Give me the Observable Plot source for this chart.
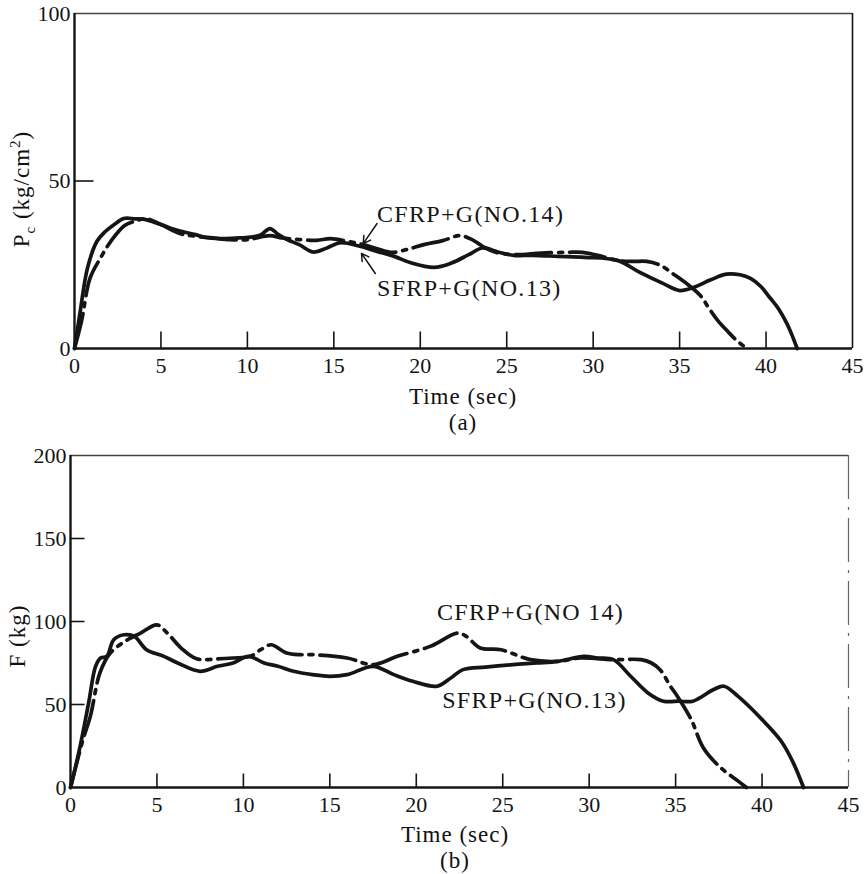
<!DOCTYPE html>
<html><head><meta charset="utf-8">
<script src="https://cdn.jsdelivr.net/npm/d3@7"></script>
<script src="https://cdn.jsdelivr.net/npm/@observablehq/plot@0.6"></script>
<style>
body{margin:0;background:#fff;}
#fig{position:relative;width:866px;height:874px;font-family:"Liberation Serif",serif;color:#111;overflow:hidden;}
#fig svg{position:absolute;left:0;}
.lbl{position:absolute;white-space:nowrap;font-size:23px;letter-spacing:1px;transform:translate(-50%,-50%);line-height:1;}
.ylbl{transform:translate(-50%,-50%) rotate(-90deg);}
sub,sup{font-size:65%;}
</style></head>
<body><div id="fig"></div>
<script>
// ---- axis ticks ----
const xTicks = [0, 5, 10, 15, 20, 25, 30, 35, 40, 45];
const xInnerTicks = [5, 10, 15, 20, 25, 30, 35, 40];
const yTicksA = [0, 50, 100];
const yTicksB = [0, 50, 100, 150, 200];

// ---- panel (a): Pc (kg/cm2) vs time ----
// SFRP+G (NO.13): solid
const tA_S = [0, 0.3, 0.75, 1.3, 1.8, 2.3, 2.85, 3.5, 4.0, 5.0, 6.0, 7.0, 7.5, 8.5, 9.5, 10.3, 10.8, 11.3, 11.8, 12.3, 13.0, 13.8, 14.6, 15.4, 16.5, 17.5, 18.5, 19.5, 20.8, 21.8, 22.8, 23.6, 24.5, 25.4, 26.5, 28, 29.5, 31.4, 32.7, 34, 35, 35.8, 36.8, 37.7, 38.5, 39.1, 39.7, 40.2, 40.7, 41.2, 41.5, 41.8];
const vA_S = [0, 10, 24, 32, 35, 37, 38.8, 38.7, 38.6, 37, 35.2, 34, 33.2, 32.8, 33, 33.3, 34, 35.8, 34, 32.5, 31, 28.8, 30, 31.6, 30.5, 29, 27.5, 25.5, 24.2, 25.5, 28, 30, 28.8, 27.8, 27.8, 27.5, 27.2, 26.3, 22.7, 19.5, 17.3, 18.2, 20.5, 22.2, 22, 20.9, 18.5, 15.3, 12, 7.5, 4, 0];
// CFRP+G (NO.14): dash-dot
const tA_C = [0, 0.4, 0.9, 1.5, 2.1, 2.9, 3.5, 4.2, 5, 6.1, 7, 8, 9, 10, 11.3, 12, 13, 14, 14.8, 15.8, 16.7, 17.5, 18.3, 19.2, 20.2, 21.3, 22.3, 23, 23.6, 24.4, 25.5, 27, 28.5, 29.4, 30.5, 31.4, 32.3, 33.1, 33.9, 34.7, 35.4, 36.2, 36.7, 37.2, 37.8, 38.3, 38.9];
const vA_C = [0, 8, 21, 27, 32, 36.7, 38, 38.7, 37, 34.3, 33.5, 33, 32.5, 32.5, 33.7, 33, 32.5, 32.3, 32.8, 32, 31, 29.8, 28.7, 29.5, 31, 32.2, 33.7, 32.5, 30.5, 28.7, 28, 28.5, 28.7, 28.7, 27.5, 26.3, 26, 26, 24.8, 22, 19.4, 15.8, 12, 8.4, 5, 2.4, 0];

// ---- panel (b): F (kg) vs time ----
const tB_S = [0, 0.5, 1.05, 1.45, 1.74, 2.1, 2.5, 3.1, 3.7, 4.4, 5.4, 6.2, 7.5, 8.5, 9.4, 10.3, 11.2, 12, 12.9, 14, 15, 16, 17.5, 18.7, 19.8, 21.2, 22, 22.7, 24, 25.6, 27, 28.2, 29.7, 30.5, 31.4, 32.4, 33.4, 34.3, 35.2, 36, 37.2, 37.8, 38.6, 39.9, 41.1, 41.8, 42.4];
const vB_S = [0, 22, 51, 73, 78, 79, 89, 92, 91, 83, 79, 75, 70, 73, 75, 79, 75, 73, 70, 68, 67, 68, 73, 68, 64, 61, 66, 71, 72.5, 74, 75, 76, 79, 78, 77, 67, 57, 52, 52, 52, 59, 61, 55, 42, 28, 15, 0];
const tB_C = [0, 0.7, 1.15, 1.7, 2.3, 3.3, 4.05, 5.0, 5.6, 6.4, 7.3, 8.5, 9.4, 10.4, 11.0, 11.6, 12.5, 13.3, 14.1, 16, 17.5, 18.9, 20.8, 22.4, 22.9, 23.7, 24.9, 26.6, 28.2, 29.5, 31.4, 33, 33.6, 34.1, 34.7, 35.1, 35.9, 36.6, 37.6, 38.6, 39.1];
const vB_C = [0, 28, 43, 69, 81, 89, 93, 98, 93, 84, 77.5, 77.5, 78, 79, 83, 86, 81, 80, 80, 78, 74, 79, 85, 93, 91, 84, 83, 77, 76, 78, 77, 77, 75, 71, 61, 55, 41, 24, 12, 4, 0];

// ---- annotations ----
const annTextA = ["CFRP+G(NO.14)", "SFRP+G(NO.13)"];
const annXA = [17.5, 17.5];
const annYA = [40, 17.9];
const arrX1A = [17.5, 17.4], arrY1A = [37.3, 22.4], arrX2A = [16.7, 16.6], arrY2A = [31.3, 28.4];
const annTextB = ["CFRP+G(NO 14)", "SFRP+G(NO.13)"];
const annXB = [21.2, 21.5];
const annYB = [105.5, 52.7];

const zip2 = (t, v) => t.map((d, i) => ({t: d, v: v[i]}));
const FONT = "Liberation Serif";
const INK = "#151515";
const DASH = "36,7,4,7";

function panel({W, H, mt, mb, ml, mr, yMax, yTicks, solid, dashed, ann, arrows, xTickPx, yTickPx, dashedRight}) {
  const plotH = H - mt - mb, plotW = W - ml - mr;
  const xTickLen = yMax * xTickPx / plotH;
  const yTickLen = 45 * yTickPx / plotW;
  const marks = [
    Plot.ruleY([yMax], {stroke: INK, strokeWidth: 1.4, strokeOpacity: 0.8}),
    dashedRight
      ? Plot.ruleX([45], {stroke: "#666", strokeWidth: 1.2, strokeDasharray: "44,8,3,8"})
      : Plot.ruleX([45], {stroke: INK, strokeWidth: 1.6}),
    Plot.ruleX([0], {stroke: INK, strokeWidth: 2.4}),
    Plot.ruleY([0], {stroke: INK, strokeWidth: 2.6}),
    Plot.link(xInnerTicks, {x1: d => d, x2: d => d, y1: () => 0, y2: () => xTickLen, stroke: INK, strokeWidth: 1.6}),
    Plot.link(yTicks.filter(d => d > 0 && d < yMax), {y1: d => d, y2: d => d, x1: () => 0, x2: () => yTickLen, stroke: INK, strokeWidth: 1.6}),
    Plot.axisX(xTicks, {tickSize: 0, tickPadding: 9, label: null, fontSize: 22}),
    Plot.axisY(yTicks, {tickSize: 0, tickPadding: 4, label: null, fontSize: 22}),
    Plot.line(solid, {x: "t", y: "v", stroke: INK, strokeWidth: 3.7, curve: "catmull-rom"}),
    Plot.line(dashed, {x: "t", y: "v", stroke: INK, strokeWidth: 3.7, curve: "catmull-rom", strokeDasharray: DASH}),
    Plot.text(ann, {x: "x", y: "y", text: "text", textAnchor: "start", fontSize: 24, fill: INK})
  ];
  if (arrows) marks.push(Plot.arrow(arrows, {x1: "x1", y1: "y1", x2: "x2", y2: "y2", stroke: INK, strokeWidth: 1.5, headLength: 9, bend: false}));
  const svg = Plot.plot({
    width: W, height: H,
    marginTop: mt, marginBottom: mb, marginLeft: ml, marginRight: mr,
    x: {domain: [0, 45], axis: null},
    y: {domain: [0, yMax], axis: null},
    style: {fontFamily: FONT, fontSize: "22px", background: "white", color: INK, overflow: "visible"},
    marks
  });
  d3.select(svg).selectAll('g[aria-label="text"] text').attr("letter-spacing", "1.3px");
  return svg;
}

const fig = document.getElementById("fig");

const svgA = panel({
  W: 866, H: 440, mt: 13, mb: 92, ml: 74, mr: 14, yMax: 100, yTicks: yTicksA,
  solid: zip2(tA_S, vA_S), dashed: zip2(tA_C, vA_C),
  ann: annTextA.map((s, i) => ({text: s, x: annXA[i], y: annYA[i]})),
  arrows: arrX1A.map((d, i) => ({x1: d, y1: arrY1A[i], x2: arrX2A[i], y2: arrY2A[i]})),
  xTickPx: 17, yTickPx: 19, dashedRight: false
});
svgA.style.top = "0px";
fig.appendChild(svgA);

const svgB = panel({
  W: 866, H: 434, mt: 15, mb: 87, ml: 70, mr: 18, yMax: 200, yTicks: yTicksB,
  solid: zip2(tB_S, vB_S), dashed: zip2(tB_C, vB_C),
  ann: annTextB.map((s, i) => ({text: s, x: annXB[i], y: annYB[i]})),
  arrows: null, xTickPx: 14, yTickPx: 14, dashedRight: true
});
svgB.style.top = "440px";
fig.appendChild(svgB);

// ---- axis titles and captions (HTML text) ----
function addLabel(html, x, y, cls) {
  const d = document.createElement("div");
  d.className = "lbl" + (cls ? " " + cls : "");
  d.innerHTML = html;
  d.style.left = x + "px";
  d.style.top = y + "px";
  fig.appendChild(d);
}
addLabel("P<sub>c</sub> (kg/cm<sup>2</sup>)", 23, 189, "ylbl");
addLabel("Time (sec)", 463, 396);
addLabel("(a)", 463, 422);
addLabel("F (kg)", 17, 636, "ylbl");
addLabel("Time (sec)", 455, 834);
addLabel("(b)", 455, 860);
</script>
</body></html>
